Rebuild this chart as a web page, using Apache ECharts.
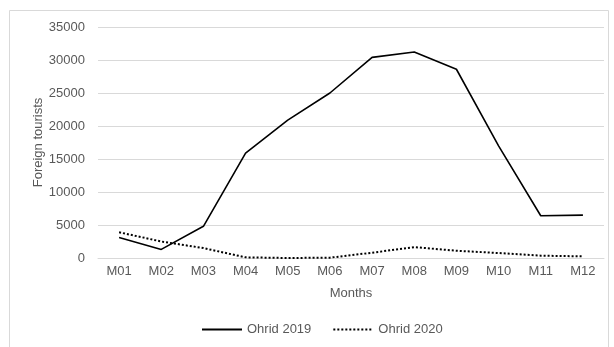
<!DOCTYPE html>
<html>
<head>
<meta charset="utf-8">
<script src="https://cdn.jsdelivr.net/npm/echarts@6/dist/echarts.min.js"></script>
<style>
  html, body { margin: 0; padding: 0; background: #ffffff; }
  #chart { width: 614px; height: 347px; }
</style>
</head>
<body>
<div id="chart"></div>
<script>
// Monthly foreign tourist arrivals in Ohrid
const months = ['M01', 'M02', 'M03', 'M04', 'M05', 'M06', 'M07', 'M08', 'M09', 'M10', 'M11', 'M12'];
const ohrid2019 = [3100, 1300, 4800, 15900, 20900, 25000, 30400, 31200, 28600, 17000, 6400, 6500];
const ohrid2020 = [3900, 2500, 1500, 100, 0, 50, 800, 1650, 1100, 750, 350, 250];
const yTicks = { min: 0, max: 35000, interval: 5000 };

const textColor = '#595959';
const gridColor = '#d9d9d9';
const font = 'Liberation Sans, Arial, sans-serif';

const chart = echarts.init(document.getElementById('chart'), null, { renderer: 'canvas' });

chart.setOption({
  animation: false,
  backgroundColor: '#ffffff',
  textStyle: { fontFamily: font },
  graphic: [{
    type: 'rect',
    silent: true,
    shape: { x: 9.5, y: 10.5, width: 599, height: 345 },
    style: { fill: 'none', stroke: '#d9d9d9', lineWidth: 1 }
  }],
  grid: { left: 98, right: 10, top: 27, height: 231 },
  legend: {
    left: 196,
    top: 318,
    itemWidth: 40,
    itemHeight: 14,
    itemGap: 21,
    itemStyle: { opacity: 0 },
    textStyle: { color: textColor, fontSize: 13, fontFamily: font },
    data: ['Ohrid 2019', 'Ohrid 2020']
  },
  xAxis: {
    type: 'category',
    data: months,
    boundaryGap: true,
    name: 'Months',
    nameLocation: 'middle',
    nameGap: 29,
    nameMoveOverlap: false,
    nameTextStyle: { color: textColor, fontSize: 13, fontFamily: font, verticalAlign: 'top' },
    axisLine: { show: true, lineStyle: { color: gridColor, width: 1 } },
    axisTick: { show: false },
    axisLabel: { color: textColor, fontSize: 13, margin: 7, fontFamily: font }
  },
  yAxis: {
    type: 'value',
    min: yTicks.min,
    max: yTicks.max,
    interval: yTicks.interval,
    name: 'Foreign tourists',
    nameLocation: 'middle',
    nameGap: 53,
    nameMoveOverlap: false,
    nameTextStyle: { color: textColor, fontSize: 13, fontFamily: font },
    axisLine: { show: false },
    axisTick: { show: false },
    axisLabel: {
      color: textColor, fontSize: 13, margin: 13, fontFamily: font,
      formatter: (v) => String(v)
    },
    splitLine: { show: true, lineStyle: { color: gridColor, width: 1 } }
  },
  series: [
    {
      name: 'Ohrid 2019',
      type: 'line',
      data: ohrid2019,
      symbol: 'none',
      smooth: false,
      lineStyle: { color: '#000000', width: 1.6, type: 'solid' },
      itemStyle: { color: '#000000' }
    },
    {
      name: 'Ohrid 2020',
      type: 'line',
      data: ohrid2020,
      symbol: 'none',
      smooth: false,
      lineStyle: { color: '#000000', width: 2, type: [2, 2], cap: 'butt' },
      itemStyle: { color: '#000000' }
    }
  ]
});
</script>
</body>
</html>
